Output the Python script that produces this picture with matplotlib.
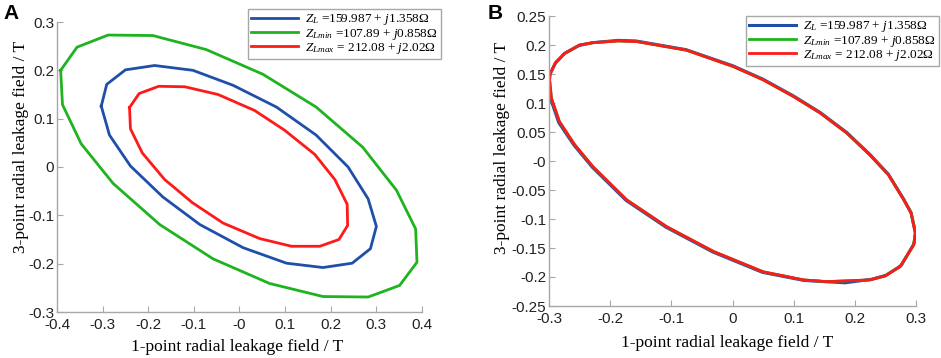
import numpy as np
import matplotlib.pyplot as plt
from matplotlib.ticker import FuncFormatter

plt.rcParams['mathtext.fontset'] = 'custom'
plt.rcParams['mathtext.rm'] = 'Liberation Serif'
plt.rcParams['mathtext.it'] = 'Liberation Serif:italic'

# panel A: closed contours (x, y in T)
green_a_x = [-0.392, -0.356, -0.288, -0.190, -0.073, 0.051, 0.168, 0.270, 0.344, 0.386,
             0.389, 0.351, 0.282, 0.183, 0.066, -0.058, -0.175, -0.277, -0.347, -0.388, -0.392]
green_a_y = [0.200, 0.248, 0.273, 0.272, 0.243, 0.192, 0.124, 0.041, -0.048, -0.128,
             -0.197, -0.245, -0.269, -0.268, -0.241, -0.190, -0.119, -0.034, 0.048, 0.129, 0.200]

blue_a_x = [-0.303, -0.291, -0.250, -0.186, -0.102, -0.014, 0.081, 0.168, 0.238, 0.282,
            0.300, 0.287, 0.247, 0.183, 0.103, 0.008, -0.087, -0.168, -0.239, -0.285, -0.303]
blue_a_y = [0.126, 0.171, 0.201, 0.210, 0.200, 0.169, 0.124, 0.066, 0.000, -0.066,
            -0.123, -0.169, -0.199, -0.208, -0.199, -0.167, -0.119, -0.062, 0.002, 0.066, 0.126]

red_a_x = [-0.241, -0.239, -0.213, -0.164, -0.103, -0.036, 0.044, 0.114, 0.176, 0.218,
           0.237, 0.236, 0.209, 0.165, 0.099, 0.033, -0.047, -0.120, -0.177, -0.220, -0.241]
red_a_y = [0.123, 0.079, 0.029, -0.026, -0.074, -0.116, -0.148, -0.164, -0.164, -0.150,
           -0.121, -0.077, -0.026, 0.026, 0.076, 0.117, 0.150, 0.166, 0.167, 0.152, 0.123]

# panel B: the three loads give almost the same ellipse
red_b_x = [-0.299, -0.296, -0.283, -0.258, -0.228, -0.173, -0.108, -0.031, 0.050, 0.116,
           0.154, 0.225, 0.250, 0.274, 0.296, 0.299, 0.292, 0.280, 0.255, 0.225, 0.187,
           0.143, 0.100, 0.050, 0.001, -0.075, -0.157, -0.187, -0.228, -0.250, -0.274,
           -0.289, -0.298, -0.299]
red_b_y = [0.140, 0.108, 0.068, 0.028, -0.010, -0.067, -0.113, -0.156, -0.191, -0.205,
           -0.208, -0.205, -0.198, -0.182, -0.145, -0.125, -0.090, -0.067, -0.024, 0.010,
           0.048, 0.083, 0.111, 0.140, 0.163, 0.191, 0.206, 0.207, 0.204, 0.200, 0.186,
           0.170, 0.151, 0.140]

blue_b_x = [-0.300, -0.297, -0.284, -0.259, -0.229, -0.174, -0.109, -0.032, 0.049, 0.117,
            0.184, 0.227, 0.251, 0.276, 0.297, 0.299, 0.292, 0.280, 0.255, 0.225, 0.187,
            0.143, 0.100, 0.050, 0.001, -0.076, -0.158, -0.187, -0.229, -0.251, -0.275,
            -0.290, -0.299, -0.300]
blue_b_y = [0.137, 0.106, 0.066, 0.027, -0.011, -0.068, -0.114, -0.157, -0.192, -0.206,
            -0.210, -0.204, -0.197, -0.180, -0.142, -0.123, -0.089, -0.066, -0.023, 0.011,
            0.049, 0.084, 0.112, 0.141, 0.164, 0.192, 0.207, 0.208, 0.204, 0.199, 0.185,
            0.168, 0.148, 0.137]

green_b_x = red_b_x
green_b_y = red_b_y

labels = [r'$Z_{L}$ =159.987 + $j$1.358Ω',
          r'$Z_{Lmin}$ =$107.89$ + $j$0.858Ω',
          r'$Z_{Lmax}$ = $212.08$ + $j$2.02Ω']
colors = ['#1f4fa8', '#1fb31f', '#ff1a1a']

fig = plt.figure(figsize=(9.41, 3.58), dpi=100)
axA = fig.add_axes([57 / 941, 1 - 312 / 358, 365 / 941, 290 / 358])
axB = fig.add_axes([549 / 941, 1 - 306 / 358, 367 / 941, 290 / 358])


def fmt(v, p):
    return '%g' % round(v, 3)


def style(ax, ylab_xy, xlab_xy):
    for s in ['top', 'right']:
        ax.spines[s].set_visible(False)
    for s in ['left', 'bottom']:
        ax.spines[s].set_color('#a8a8a8')
        ax.spines[s].set_linewidth(1.0)
    ax.xaxis.set_major_formatter(FuncFormatter(fmt))
    ax.yaxis.set_major_formatter(FuncFormatter(fmt))
    ax.tick_params(direction='in', length=4, color='#a8a8a8', labelsize=11,
                   labelcolor='#222222')
    ax.tick_params(axis='x', pad=4)
    ax.tick_params(axis='y', pad=2)
    for t in ax.get_xticklabels() + ax.get_yticklabels():
        t.set_fontfamily('Liberation Sans')
    ax.set_xlabel('1-point radial leakage field / T', fontfamily='Liberation Serif',
                  fontsize=12.5)
    ax.set_ylabel('3-point radial leakage field / T', fontfamily='Liberation Serif',
                  fontsize=12.5)
    ax.yaxis.set_label_coords(*ylab_xy)
    ax.xaxis.set_label_coords(*xlab_xy)


axA.plot(blue_a_x, blue_a_y, color=colors[0], lw=2, label=labels[0])
axA.plot(green_a_x, green_a_y, color=colors[1], lw=2, label=labels[1])
axA.plot(red_a_x, red_a_y, color=colors[2], lw=2, label=labels[2])
axA.set_xlim(-0.4, 0.4)
axA.set_ylim(-0.3, 0.3)
axA.set_xticks(np.arange(-0.4, 0.41, 0.1))
axA.set_yticks(np.arange(-0.3, 0.31, 0.1))
style(axA, (-0.077, 0.569), (0.493, -0.092))

axB.plot(blue_b_x, blue_b_y, color=colors[0], lw=2.2, label=labels[0])
axB.plot(green_b_x, green_b_y, color=colors[1], lw=2, label=labels[1])
axB.plot(red_b_x, red_b_y, color=colors[2], lw=2, label=labels[2])
axB.set_xlim(-0.3, 0.3)
axB.set_ylim(-0.25, 0.25)
axB.set_xticks(np.arange(-0.3, 0.31, 0.1))
axB.set_yticks(np.arange(-0.25, 0.26, 0.05))
style(axB, (-0.107, 0.545), (0.484, -0.1))

for ax, anchor in [(axA, (441 / 941, 1 - 9 / 358)), (axB, (939 / 941, 1 - 16 / 358))]:
    leg = ax.legend(loc='upper right', bbox_to_anchor=anchor, bbox_transform=fig.transFigure,
                    fancybox=False, framealpha=1, edgecolor='#a8a8a8', handlelength=3.6,
                    handletextpad=0.5, labelspacing=-0.05, borderpad=0.25, borderaxespad=0,
                    prop={'family': 'Liberation Serif', 'size': 9.5})
    leg.get_frame().set_linewidth(1.0)

fig.text(3 / 941, 1 - 4 / 358, 'A', fontsize=15, fontweight='bold', fontfamily='Liberation Sans',
         va='top', ha='left')
fig.text(488 / 941, 1 - 4 / 358, 'B', fontsize=15, fontweight='bold', fontfamily='Liberation Sans',
         va='top', ha='left')

fig.savefig('out.png', dpi=100)
